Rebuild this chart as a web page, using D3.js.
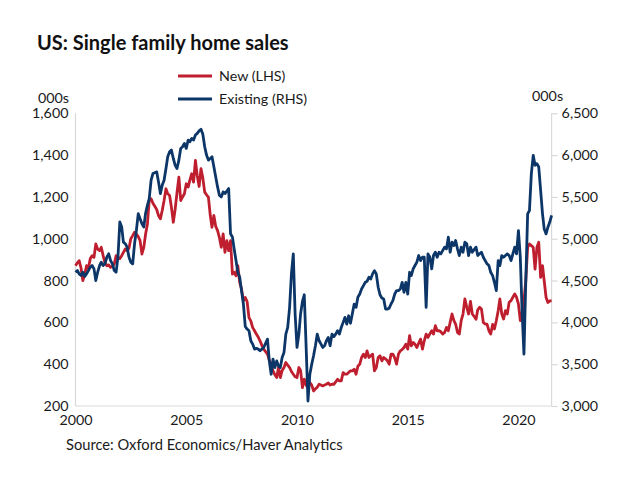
<!DOCTYPE html>
<html>
<head>
<meta charset="utf-8">
<script src="https://cdn.jsdelivr.net/npm/d3@7"></script>
<style>
  html, body { margin: 0; padding: 0; background: #fff; }
  svg { display: block; font-family: Lato, "Open Sans", sans-serif; }
</style>
</head>
<body>
<svg id="chart" width="630" height="487"></svg>
<script>
// ---------------- DATA ----------------
const firstMonth = [2000, 0]; // Jan 2000, monthly observations
const seriesNames = ["New (LHS)", "Existing (RHS)"];
const xTickYears = [2000, 2005, 2010, 2015, 2020];
const leftTicks = [200, 400, 600, 800, 1000, 1200, 1400, 1600];
const rightTicks = [3000, 3500, 4000, 4500, 5000, 5500, 6000, 6500];
const axisUnitLabel = "000s";
const titleText = "US: Single family home sales";
const sourceText = "Source: Oxford Economics/Haver Analytics";

// New single-family home sales, 000s (LHS)
const newSales = [
  871, 885, 895, 860, 800, 830, 871, 860, 905, 919,
  911, 975, 950, 943, 959, 919, 885, 871, 875, 863,
  868, 879, 919, 911, 905, 919, 935, 951, 943, 955,
  1000, 1015, 1031, 1023, 1010, 991, 927, 960, 1020, 1071,
  1183, 1191, 1170, 1155, 1140, 1111, 1095, 1135, 1183, 1239, 1215,
  1207, 1151, 1079, 1140, 1220, 1295, 1183, 1200, 1215, 1263,
  1247, 1280, 1311, 1271, 1375, 1300, 1250, 1335, 1290, 1223,
  1210, 1199, 1111, 1055, 1111, 1060, 1039, 1007, 959, 1023,
  935, 991, 943, 991, 831, 840, 823, 871, 791, 760,
  703, 719, 700, 623, 607, 575, 560, 544, 530, 512,
  490, 472, 460, 448, 420, 400, 368, 350, 336, 384,
  336, 370, 384, 408, 395, 384, 365, 352, 340, 336,
  384, 370, 288, 328, 300, 288, 312, 300, 272, 282, 290,
  304, 300, 296, 300, 304, 310, 300, 304, 304, 315,
  328, 320, 320, 360, 352, 352, 360, 368, 368, 376,
  352, 390, 400, 432, 448, 432, 464, 432, 440, 448,
  368, 384, 432, 440, 416, 432, 425, 416, 400, 448,
  448, 430, 400, 448, 464, 470, 480, 496, 472, 536,
  488, 504, 495, 480, 500, 520, 472, 512, 544, 528,
  545, 560, 544, 584, 560, 560, 555, 544, 552, 576,
  560, 600, 640, 608, 592, 552, 544, 608, 640, 712,
  672, 640, 700, 640, 628, 615, 660, 672, 664, 600, 592,
  592, 560, 544, 590, 568, 608, 656, 712, 640, 616,
  656, 640, 696, 704, 720, 736, 720, 688, 608, 640,
  704, 799, 959, 975, 967, 959, 855, 959, 983, 815,
  871, 799, 719, 695, 703, 703
];

// Existing single-family home sales, 000s (RHS)
const existingSales = [
  4600, 4620, 4580, 4560, 4600, 4550, 4580, 4620, 4660, 4680,
  4640, 4500, 4600, 4680, 4720, 4680, 4700, 4780, 4820, 4740,
  4700, 4620, 4600, 4780, 5200, 5140, 4960, 4940, 4900, 4780,
  4720, 4700, 4940, 5100, 5300, 5240, 5180, 5140, 5300, 5400,
  5480, 5700, 5780, 5790, 5800, 5680, 5540, 5640, 5700, 5840, 5980,
  6040, 6060, 5960, 5880, 5840, 5940, 6080, 6100, 6140, 6080,
  6180, 6160, 6200, 6180, 6240, 6260, 6290, 6310, 6250, 6100,
  6000, 5940, 5960, 5980, 5860, 5740, 5620, 5520, 5500, 5560,
  5540, 5570, 5600, 5060, 5020, 4880, 4740, 4600, 4540, 4380,
  4220, 3950, 3920, 3900, 3780, 3740, 3680, 3690, 3680, 3660,
  3680, 3700, 3750, 3800, 3540, 3380, 3560, 3460, 3540, 3480,
  3460, 3580, 3640, 3860, 3940, 4180, 4580, 4820, 4100, 3700,
  3860, 4100, 4250, 4330, 3700, 3060, 3380, 3500, 3600, 3720, 3860,
  3780, 3740, 3700, 3720, 3780, 3820, 3720, 3859, 3830, 3860,
  3899, 3860, 3940, 4000, 4059, 3979, 4079, 3990, 4100, 4219,
  4179, 4300, 4339, 4399, 4440, 4479, 4490, 4539, 4519, 4580,
  4619, 4579, 4420, 4330, 4290, 4279, 4159, 4159, 4170, 4220,
  4260, 4339, 4379, 4380, 4399, 4479, 4359, 4479, 4339, 4599,
  4559, 4640, 4680, 4720, 4799, 4739, 4779, 4779, 4179, 4819,
  4779, 4639, 4799, 4839, 4779, 4839, 4819, 4860, 4899, 4879,
  5018, 4839, 4959, 4919, 4979, 4879, 4799, 4899, 4839, 4959,
  4939, 4799, 4899, 4839, 4869, 4899, 4799, 4820, 4839, 4779, 4739,
  4700, 4679, 4599, 4559, 4479, 4379, 4739, 4679, 4799, 4779,
  4800, 4819, 4799, 4739, 4819, 4899, 4819, 5098, 4779, 4139,
  3620, 4479, 5298, 5338, 5778, 5998, 5878, 5898, 5858, 5578,
  5298, 5118, 5058, 5138, 5200, 5278
];

// ---------------- CHART ----------------
const colors = { newC: "#be1e2d", existC: "#0c3668", axis: "#d9d9d9", text: "#1a1a1a" };
const svg = d3.select("#chart");
svg.append("rect").attr("width", 630).attr("height", 487).attr("fill", "#fff");

const plot = { left: 75.5, right: 551.6, top: 113.3, bottom: 406 };

const start = new Date(firstMonth[0], firstMonth[1], 1);
const dateOf = i => d3.timeMonth.offset(start, i);
const n = Math.max(newSales.length, existingSales.length);

const x = d3.scaleTime()
  .domain([start, dateOf(n - 1)])
  .range([plot.left, plot.right]);
const yL = d3.scaleLinear().domain([leftTicks[0], leftTicks[leftTicks.length - 1]])
  .range([plot.bottom, plot.top]);
const yR = d3.scaleLinear().domain([rightTicks[0], rightTicks[rightTicks.length - 1]])
  .range([plot.bottom, plot.top]);

const fmt = d3.format(",");

// Axes
const gx = svg.append("g").attr("transform", `translate(0,${plot.bottom})`)
  .call(d3.axisBottom(x).tickValues(xTickYears.map(y => new Date(y, 0, 1)))
    .tickFormat(d3.timeFormat("%Y")).tickSize(0).tickPadding(9));
const gl = svg.append("g").attr("transform", `translate(${plot.left},0)`)
  .call(d3.axisLeft(yL).tickValues(leftTicks).tickFormat(fmt).tickSize(0).tickPadding(7));
const gr = svg.append("g").attr("transform", `translate(${plot.right},0)`)
  .call(d3.axisRight(yR).tickValues(rightTicks).tickFormat(fmt).tickSize(6).tickPadding(4));

[gx, gl, gr].forEach(g => {
  g.select(".domain").attr("stroke", colors.axis).attr("stroke-width", 1.2);
  g.selectAll(".tick line").attr("stroke", colors.axis).attr("stroke-width", 1.2);
  g.selectAll("text").attr("fill", colors.text).attr("font-size", 14.3)
    .attr("font-family", "Lato, 'Open Sans', sans-serif");
});
gl.select(".domain").attr("d", `M0,${plot.top}V${plot.bottom}`);
gr.select(".domain").attr("d", `M0,${plot.top}V${plot.bottom}`);
gx.select(".domain").attr("d", `M${plot.left},0H${plot.right}`);

// Lines
const lineNew = d3.line().x((d, i) => x(dateOf(i))).y(d => yL(d));
const lineEx = d3.line().x((d, i) => x(dateOf(i))).y(d => yR(d));

svg.append("path").datum(newSales).attr("d", lineNew)
  .attr("fill", "none").attr("stroke", colors.newC).attr("stroke-width", 2.8)
  .attr("stroke-linejoin", "round");
svg.append("path").datum(existingSales).attr("d", lineEx)
  .attr("fill", "none").attr("stroke", colors.existC).attr("stroke-width", 2.8)
  .attr("stroke-linejoin", "round");

// Title
svg.append("text").attr("x", 37).attr("y", 50)
  .attr("font-size", 20).attr("font-weight", 700).attr("fill", "#111")
  .text(titleText);

// Legend
const legend = svg.append("g");
const legendItems = [
  { name: seriesNames[0], color: colors.newC, y: 76 },
  { name: seriesNames[1], color: colors.existC, y: 99 }
];
legendItems.forEach(it => {
  legend.append("line").attr("x1", 178).attr("x2", 212)
    .attr("y1", it.y).attr("y2", it.y)
    .attr("stroke", it.color).attr("stroke-width", 2.8);
  legend.append("text").attr("x", 219).attr("y", it.y + 4.8)
    .attr("font-size", 14.3).attr("fill", colors.text).text(it.name);
});

// Unit labels
svg.append("text").attr("x", 69).attr("y", 103).attr("text-anchor", "end")
  .attr("font-size", 14.3).attr("fill", colors.text).text(axisUnitLabel);
svg.append("text").attr("x", 532).attr("y", 101)
  .attr("font-size", 14.3).attr("fill", colors.text).text(axisUnitLabel);

// Source
svg.append("text").attr("x", 66).attr("y", 450)
  .attr("font-size", 14.7).attr("fill", colors.text).text(sourceText);
</script>
</body>
</html>
